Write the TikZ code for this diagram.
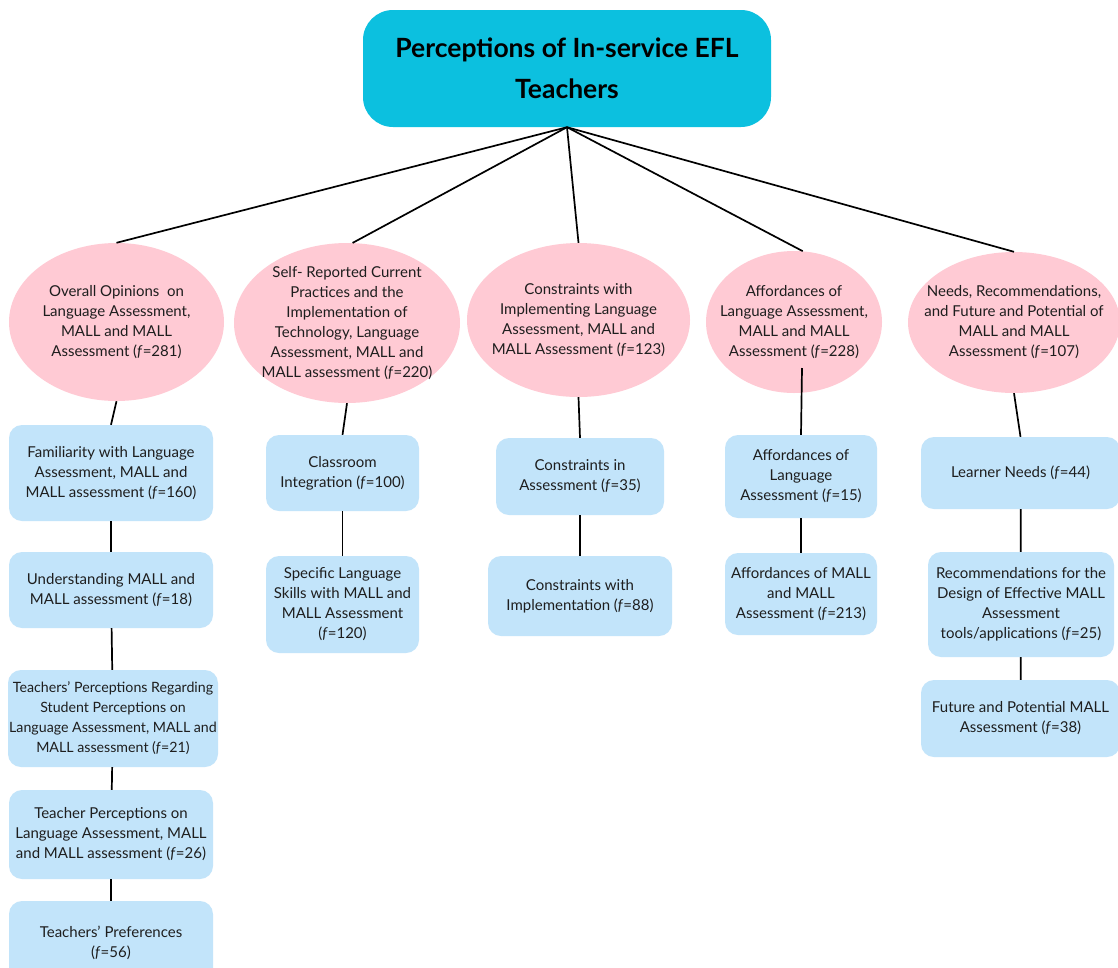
\documentclass[tikz,border=0pt]{standalone}
\usepackage{fontspec}
\setmainfont{Lato}
\usetikzlibrary{shapes.geometric}
\definecolor{titlecyan}{HTML}{0CC0DF}
\definecolor{themepink}{HTML}{FFCAD4}
\definecolor{subblue}{HTML}{C2E4FA}
\definecolor{inkdark}{HTML}{1E1E1E}
\tikzset{
  px/.style={x=1pt,y=-1pt},
  titlebox/.style={fill=titlecyan, rounded corners=30pt, inner sep=0pt,
    align=center, font=\fontsize{26.5}{41}\selectfont\bfseries, text=black},
  themeoval/.style={ellipse, fill=themepink, inner sep=0pt},
  ovaltext/.style={inner sep=0pt, align=center,
    font=\fontsize{15}{20}\selectfont, text=inkdark},
  subbox/.style={fill=subblue, rounded corners=13pt, inner sep=0pt,
    align=center, font=\fontsize{15}{20}\selectfont, text=inkdark},
  widetext/.style={font=\fontsize{14.2}{20}\selectfont},
  link/.style={draw=black, line width=1.7pt},
}
% place a node by its left/top/right/bottom edges in pixel units
\newcommand{\boxat}[7]{%
  \node[#1, minimum width={(#5)-(#3)}, minimum height={(#6)-(#4)}]
    (#2) at ({((#3)+(#5))/2},{((#4)+(#6))/2}) {#7};}
% a pink oval of fixed size with its text set on top
\newcommand{\ovalat}[7]{%
  \boxat{themeoval}{#2}{#3}{#4}{#5}{#6}{}%
  \node[ovaltext] (#2-text) at (#2.center) {#7};}
\begin{document}
\begin{tikzpicture}[px]
\useasboundingbox (0,0) rectangle (1118,967);
\fill[white] (0,0) rectangle (1118,967);

% root
\boxat{titlebox}{root}{363}{10}{771}{127}{Perceptions of In-service EFL\\Teachers}

% themes
\ovalat{}{e1}{9}{243}{224}{401}{Overall Opinions\ \ on\\Language Assessment,\\MALL and MALL\\Assessment (\textit{f}=281)}
\ovalat{}{e2}{234}{243}{460}{403}{Self- Reported Current\\Practices and the\\Implementation of\\Technology, Language\\Assessment, MALL and\\MALL assessment (\textit{f}=220)}
\ovalat{}{e3}{467}{243}{690}{397}{Constraints with\\Implementing Language\\Assessment, MALL and\\MALL Assessment (\textit{f}=123)}
\ovalat{}{e4}{706}{251}{882}{393}{Affordances of\\Language Assessment,\\MALL and MALL\\Assessment (\textit{f}=228)}
\ovalat{}{e5}{908}{252}{1120}{393}{Needs, Recommendations,\\and Future and Potential of\\MALL and MALL\\Assessment (\textit{f}=107)}

% sub-themes, column 1
\boxat{subbox}{a1}{9}{425}{213}{521}{Familiarity with Language\\Assessment, MALL and\\MALL assessment (\textit{f}=160)}
\boxat{subbox}{a2}{9}{552}{213}{628}{Understanding MALL and\\MALL assessment (\textit{f}=18)}
\boxat{subbox,widetext}{a3}{8}{670}{218}{767}{Teachers’ Perceptions Regarding\\Student Perceptions on\\Language Assessment, MALL and\\MALL assessment (\textit{f}=21)}
\boxat{subbox}{a4}{9}{790}{213}{879}{Teacher Perceptions on\\Language Assessment, MALL\\and MALL assessment (\textit{f}=26)}
\boxat{subbox}{a5}{9}{901}{213}{985}{Teachers’ Preferences\\(\textit{f}=56)}

% column 2
\boxat{subbox}{b1}{266}{435}{419}{511}{Classroom\\Integration (\textit{f}=100)}
\boxat{subbox}{b2}{266}{556}{419}{653}{Specific Language\\Skills with MALL and\\MALL Assessment\\(\textit{f}=120)}

% column 3
\boxat{subbox}{c1}{496}{438}{664}{515}{Constraints in\\Assessment (\textit{f}=35)}
\boxat{subbox}{c2}{488}{556}{672}{636}{Constraints with\\Implementation (\textit{f}=88)}

% column 4
\boxat{subbox}{d1}{725}{435}{877}{518}{Affordances of\\Language\\Assessment (\textit{f}=15)}
\boxat{subbox}{d2}{725}{553}{877}{635}{Affordances of MALL\\and MALL\\Assessment (\textit{f}=213)}

% column 5
\boxat{subbox}{g1}{921}{437}{1120}{509}{Learner Needs (\textit{f}=44)}
\boxat{subbox}{g2}{928}{552}{1114}{657}{Recommendations for the\\Design of Effective MALL\\Assessment\\tools/applications (\textit{f}=25)}
\boxat{subbox}{g3}{921}{680}{1120}{757}{Future and Potential MALL\\Assessment (\textit{f}=38)}

% root to themes
\draw[link] (root.south) -- (e1.north);
\draw[link] (root.south) -- (e2.86);
\draw[link] (root.south) -- (e3.north);
\draw[link] (root.south) -- (e4.83);
\draw[link] (root.south) -- (e5.north);

% themes to sub-themes
\draw[link] (e1.south) -- (a1.north);
\draw[link] (e2.south) -- (b1.north);
\draw[link] (e3.south) -- (c1.north);
\coordinate (k4) at (802,368);
\draw[link] (k4) -- (d1.north);
\draw[link] (e5.south) -- (g1.north);

% sub-theme chains
\draw[link] (a1) -- (a2);
\draw[link] (a2) -- (a3);
\draw[link] (a3) -- (a4);
\draw[link] (a4) -- (a5);
\draw[link] (b1) -- (b2);
\draw[link] (c1) -- (c2);
\draw[link] (d1) -- (d2);
\draw[link] (g1) -- (g2);
\draw[link] (g2) -- (g3);
\end{tikzpicture}
\end{document}
